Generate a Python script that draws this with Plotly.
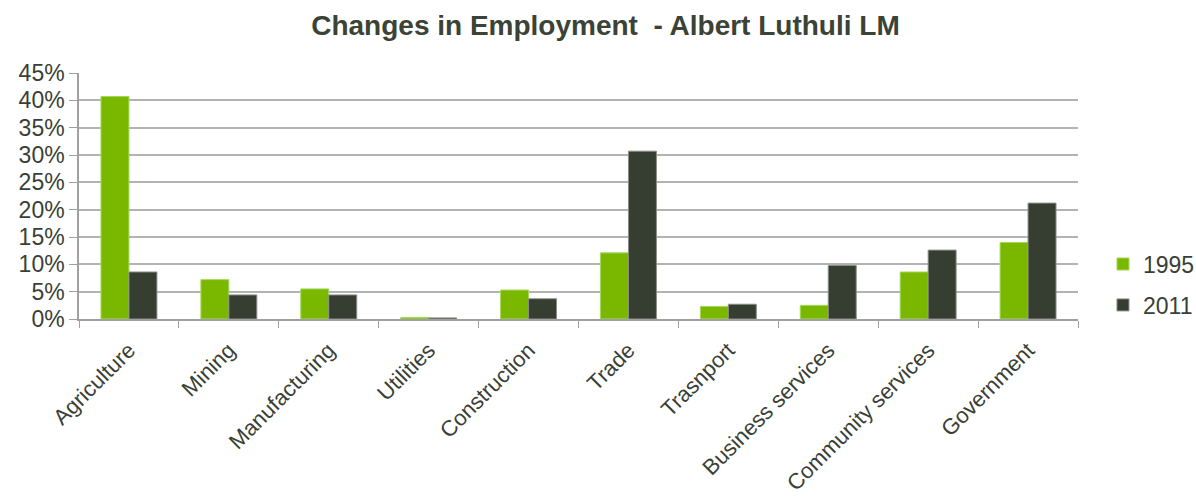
import plotly.graph_objects as go

categories = ["Agriculture", "Mining", "Manufacturing", "Utilities", "Construction",
              "Trade", "Trasnport", "Business services", "Community services", "Government"]
share_1995 = [40.7, 7.2, 5.5, 0.3, 5.3, 12.1, 2.3, 2.5, 8.6, 14.0]
share_2011 = [8.6, 4.4, 4.4, 0.2, 3.7, 30.7, 2.7, 9.8, 12.6, 21.2]
y_ticks = [0, 5, 10, 15, 20, 25, 30, 35, 40, 45]
y_tick_labels = [f"{v}%" for v in y_ticks]

GREEN = "#7ab800"
DARK = "#363d31"
TEXT = "#3a3f36"

fig = go.Figure()
fig.add_trace(go.Bar(x=categories, y=share_1995, name="1995", legendgroup="a",
                     marker=dict(color=GREEN, line=dict(color="#a6d85a", width=1))))
fig.add_trace(go.Bar(x=categories, y=share_2011, name="2011", legendgroup="b",
                     marker=dict(color=DARK, line=dict(color="#8a8f86", width=1))))

fig.update_layout(
    width=1196, height=502,
    margin=dict(l=79, r=118, t=73, b=183, autoexpand=False),
    paper_bgcolor="white", plot_bgcolor="white",
    barmode="group", bargap=0.44, bargroupgap=0,
    font=dict(family="Liberation Sans, Arial, sans-serif", color=TEXT),
    title=dict(text="<b>Changes in Employment  - Albert Luthuli LM</b>",
               x=0.527, xref="paper", xanchor="center", y=0.95, yanchor="middle",
               font=dict(size=28, family="Liberation Sans, Arial", color="#3b4236")),
    legend=dict(x=1.025, y=0.14, xanchor="left", yanchor="middle",
                font=dict(size=23, color=TEXT), tracegroupgap=8,
                itemwidth=30, bgcolor="rgba(0,0,0,0)"),
    showlegend=True,
)
fig.update_yaxes(range=[0, 45], tickvals=y_ticks, ticktext=y_tick_labels,
                 showgrid=True, gridcolor="#b3b3b3", gridwidth=1.5,
                 showline=True, linecolor="#a0a0a0", linewidth=1.5,
                 ticks="outside", ticklen=8, tickcolor="#a0a0a0", automargin=False,
                 tickfont=dict(size=23, color=TEXT), zeroline=False)
fig.update_xaxes(showline=True, linecolor="#a0a0a0", linewidth=1.5,
                 ticks="outside", ticklen=7, tickcolor="#a0a0a0", tickson="boundaries",
                 tickangle=-45, ticklabelstandoff=8, automargin=False,
                 tickfont=dict(size=22, color=TEXT))

fig.write_html("out.html")
